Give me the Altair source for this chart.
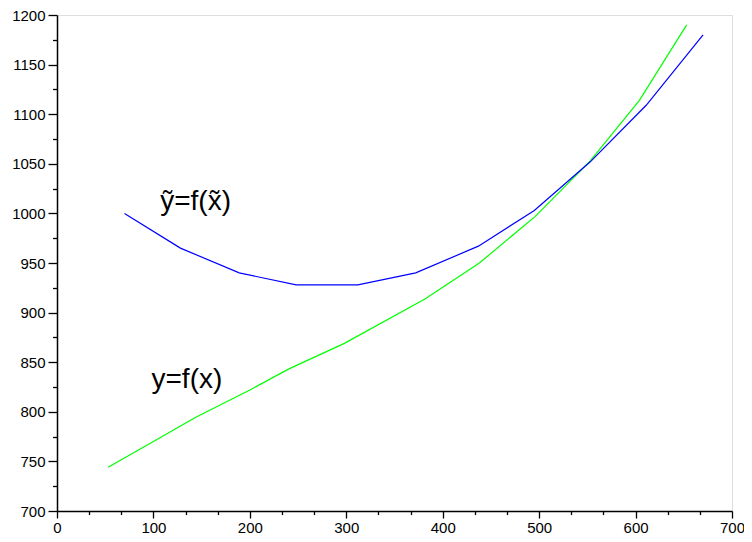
import altair as alt
import pandas as pd

# Curve y = f(x) (green)
green_x = [53, 100, 143, 200, 240, 298, 382, 438, 496, 553, 604, 653]
green_y = [744, 770, 794, 822, 843, 869, 914, 950, 997, 1053, 1114, 1190]

# Curve y~ = f(x~) (blue)
blue_x = [70, 128, 189, 248, 312, 372, 437, 495, 553, 611, 670]
blue_y = [1000, 965, 940, 928, 928, 940, 967, 1003, 1052, 1109, 1180]

# Annotations
ann_text = ["y=f(x)", "\u1ef9=f(x\u0303)"]
ann_x = [98, 107]
ann_y = [824, 1003]

x_ticks = [round(i * 100 / 3, 4) for i in range(0, 22)]
y_ticks = list(range(700, 1201, 25))

df = pd.concat([
    pd.DataFrame({"x": green_x, "y": green_y, "s": "green", "o": range(len(green_x))}),
    pd.DataFrame({"x": blue_x, "y": blue_y, "s": "blue", "o": range(len(blue_x))}),
])
ann = pd.DataFrame({"t": ann_text, "x": ann_x, "y": ann_y})

FONT = "Liberation Sans"
XMAJ = "abs(datum.value % 100) < 0.01 || abs(datum.value % 100) > 99.99"

xaxis = alt.Axis(
    values=x_ticks, tickCount=200,
    labelExpr=f"{XMAJ} ? format(datum.value, 'd') : ''",
    tickSize={"condition": {"test": XMAJ, "value": 7}, "value": 3.5},
    title=None, grid=False, labelFont=FONT, labelFontSize=15, labelColor="black",
    domainColor="black", tickColor="black", domainWidth=1.5, tickWidth=1.3,
    labelPadding=2, labelOverlap=False, labelFlush=False, labelBound=False,
)
yaxis = alt.Axis(
    values=y_ticks, tickCount=200,
    labelExpr="datum.value % 50 === 0 ? format(datum.value, 'd') : ''",
    tickSize={"condition": {"test": "datum.value % 50 === 0", "value": 9}, "value": 4.5},
    title=None, grid=False, labelFont=FONT, labelFontSize=15, labelColor="black",
    domainColor="black", tickColor="black", domainWidth=1.5, tickWidth=1.3,
    labelPadding=3, labelOverlap=False,
)

xs = alt.Scale(domain=[0, 700], nice=False, zero=False)
ys = alt.Scale(domain=[700, 1200], nice=False, zero=False)

lines = alt.Chart(df).mark_line(strokeWidth=1.2).encode(
    x=alt.X("x:Q", scale=xs, axis=xaxis),
    y=alt.Y("y:Q", scale=ys, axis=yaxis),
    order="o:Q",
    detail="s:N",
    color=alt.Color("s:N", scale=alt.Scale(domain=["green", "blue"], range=["#00ff00", "#0000ff"]), legend=None),
)

texts = alt.Chart(ann).mark_text(font=FONT, fontSize=28, align="left", baseline="alphabetic", color="black").encode(
    x=alt.X("x:Q", scale=xs),
    y=alt.Y("y:Q", scale=ys),
    text="t:N",
)

chart = alt.layer(lines, texts).properties(
    width=675, height=496,
    autosize=alt.AutoSizeParams(type="none"),
    padding={"left": 49, "top": 7, "right": 12, "bottom": 23},
).configure_view(stroke="black", strokeWidth=1.5).configure(background="white")

chart.save("out.html", embed_options={"renderer": "svg", "actions": False})
